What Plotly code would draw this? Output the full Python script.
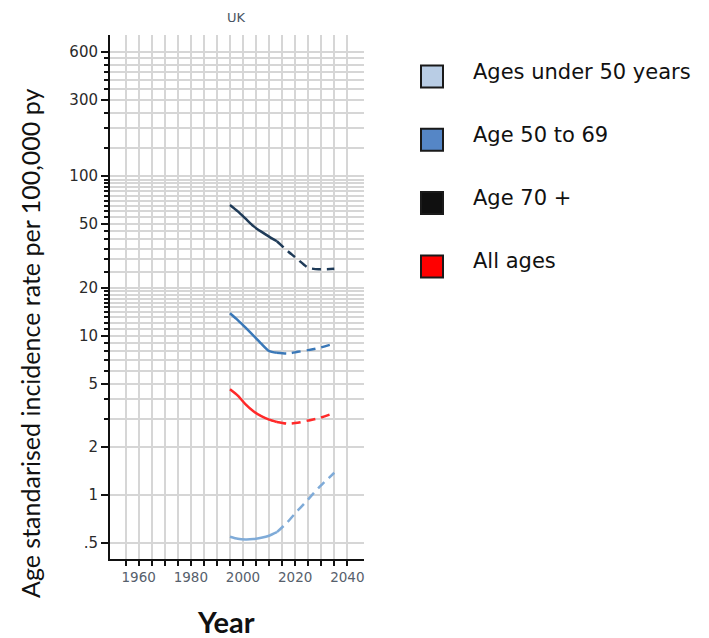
import plotly.graph_objects as go

# ---- data ----
obs_years = [1995, 1998, 2001, 2004, 2007, 2010, 2013]
proj_years = [2013, 2017, 2021, 2025, 2029, 2035]

under50_obs = [0.548, 0.532, 0.527, 0.530, 0.540, 0.556, 0.585]
under50_proj = [0.585, 0.675, 0.80, 0.94, 1.11, 1.38]

age50_69_obs = [13.8, 12.5, 11.2, 10.0, 8.9, 8.0, 7.8]
age50_69_proj = [7.8, 7.7, 7.9, 8.1, 8.35, 8.9]

age70_obs = [65.8, 60.0, 54.0, 48.5, 44.8, 41.7, 39.0]
age70_proj = [39.0, 34.0, 30.0, 26.6, 26.0, 26.2]

all_obs = [4.6, 4.2, 3.7, 3.35, 3.12, 2.97, 2.87]
all_proj = [2.87, 2.80, 2.84, 2.93, 3.03, 3.27]

series_names = ["Ages under 50 years", "Age 50 to 69", "Age 70 +", "All ages"]
line_colors = ["#7fabd8", "#3a78b8", "#1f3b58", "#ff2a2a"]
legend_colors = ["#b9cde5", "#5586c6", "#101010", "#ff0000"]

y_tickvals = [0.5, 1, 2, 5, 10, 20, 50, 100, 300, 600]
y_ticktext = [".5", "1", "2", "5", "10", "20", "50", "100", "300", "600"]
y_minor_vals = ([3, 4, 6, 7, 8, 9] + list(range(11, 20)) + list(range(25, 100, 5))
                + list(range(150, 300, 50)) + list(range(350, 600, 50)))

x_tickvals = list(range(1955, 2041, 5))
x_labels = [1960, 1980, 2000, 2020, 2040]
x_ticktext = [str(v) if v in x_labels else "" for v in x_tickvals]

# ---- layout geometry (pixels, figure coords; page body adds 8px offset) ----
W, H = 701, 630
ML, MR, MT, MB = 102, 345, 27, 79
PW, PH = W - ML - MR, H - MT - MB


def px(x):
    return (x - ML) / PW


def py(y):
    return (H - MB - y) / PH


fig = go.Figure()

obs_sets = [under50_obs, age50_69_obs, age70_obs, all_obs]
proj_sets = [under50_proj, age50_69_proj, age70_proj, all_proj]

for name, col, o, p in zip(series_names, line_colors, obs_sets, proj_sets):
    fig.add_trace(go.Scatter(x=obs_years, y=o, mode="lines", name=name, showlegend=False,
                             line=dict(color=col, width=2.5, shape="spline", smoothing=0.6),
                             hoverinfo="skip"))
    fig.add_trace(go.Scatter(x=proj_years, y=p, mode="lines", name=name + " (projected)",
                             showlegend=False,
                             line=dict(color=col, width=2.5, shape="spline", smoothing=0.6,
                                       dash="9px,6px"),
                             hoverinfo="skip"))

# ---- legend (squares + labels) ----
sq_cx, sq_half = 424, 11
leg_y0, leg_step = 68.5, 63.3
shapes = []
annotations = []
for i, (name, col) in enumerate(zip(series_names, legend_colors)):
    cy = leg_y0 + i * leg_step
    shapes.append(dict(type="rect", xref="paper", yref="paper",
                       x0=px(sq_cx - sq_half), x1=px(sq_cx + sq_half),
                       y0=py(cy + sq_half), y1=py(cy - sq_half),
                       fillcolor=col, line=dict(color="#1a1a1a", width=2)))
    annotations.append(dict(text=name, xref="paper", yref="paper",
                            x=px(463), y=py(cy - 5), xanchor="left", yanchor="middle",
                            showarrow=False,
                            font=dict(family="DejaVu Sans", size=21, color="#111111")))

annotations.append(dict(text="Age standarised incidence rate per 100,000 py",
                        xref="paper", yref="paper", x=px(22), y=py(336),
                        xanchor="center", yanchor="middle", textangle=-90, showarrow=False,
                        font=dict(family="Lato", size=25, color="#111111")))
annotations.append(dict(text="<b>Year</b>", xref="paper", yref="paper",
                        x=px(218), y=py(613), xanchor="center", yanchor="middle",
                        showarrow=False, font=dict(family="Lato", size=29, color="#111111")))
annotations.append(dict(text="UK", xref="paper", yref="paper",
                        x=px(228), y=py(9), xanchor="center", yanchor="middle",
                        showarrow=False, font=dict(family="DejaVu Sans", size=13, color="#4a5563")))

grid_col = "#d6d6d6"

fig.update_layout(
    width=W, height=H,
    margin=dict(l=ML, r=MR, t=MT, b=MB),
    paper_bgcolor="white", plot_bgcolor="white",
    showlegend=False,
    shapes=shapes,
    annotations=annotations,
)

fig.update_xaxes(
    range=[1949, 2046.4],
    tickmode="array", tickvals=x_tickvals, ticktext=x_ticktext,
    ticks="outside", ticklen=5, tickwidth=2, tickcolor="#111",
    showline=True, linecolor="#111", linewidth=2,
    showgrid=True, gridcolor=grid_col, gridwidth=2,
    zeroline=False,
    tickfont=dict(family="DejaVu Sans", size=13.5, color="#56606c"),
)

fig.update_yaxes(
    type="log", range=[-0.401, 2.884],
    tickmode="array", tickvals=y_tickvals, ticktext=y_ticktext,
    ticks="outside", ticklen=7, tickwidth=2, tickcolor="#111",
    showline=True, linecolor="#111", linewidth=2,
    showgrid=True, gridcolor=grid_col, gridwidth=1.6,
    zeroline=False,
    minor=dict(tickmode="array", tickvals=y_minor_vals, ticks="outside", ticklen=4,
               tickwidth=2, tickcolor="#111", showgrid=True,
               gridcolor=grid_col, gridwidth=1.6),
    tickfont=dict(family="DejaVu Sans", size=15, color="#2a2a2a"),
)

fig.write_html("out.html")
